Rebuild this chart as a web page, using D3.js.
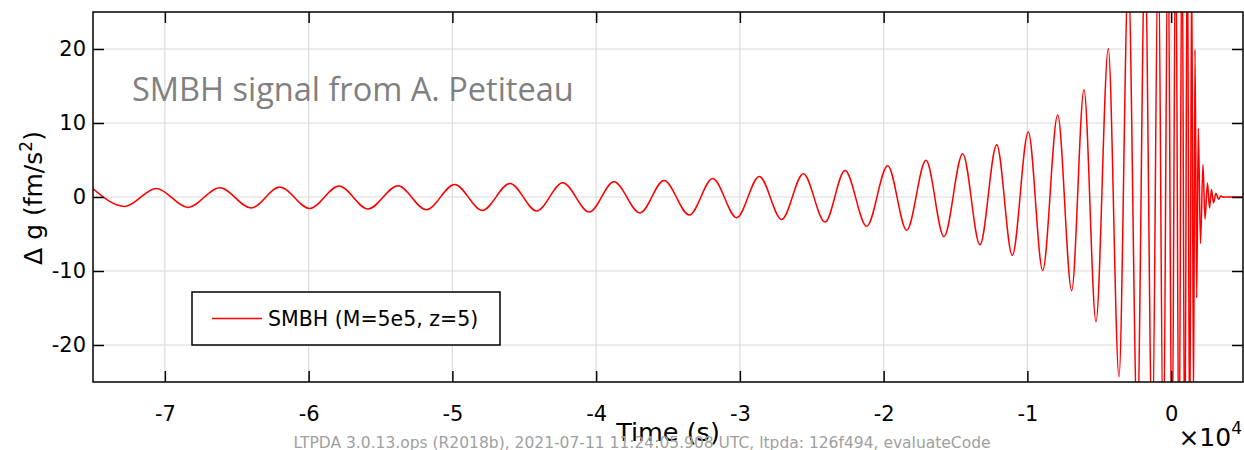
<!DOCTYPE html>
<html lang="en">
<head>
<meta charset="UTF-8">
<title>SMBH signal</title>
<script src="https://d3js.org/d3.v7.min.js"></script>
<style>
  body { margin: 0; background: #fff; font-family: "DejaVu Sans", sans-serif; }
  .axis path { display: none; }
  .axis line { stroke: #000; stroke-width: 1.5; }
  .axis text { font-family: "DejaVu Sans", sans-serif; font-size: 21px; fill: #000; }
</style>
</head>
<body>
<div id="chart"></div>
<script>
// waveform extrema: time (s) and Δg (fm/s²)
const times = [
  -75000, -72795, -70597, -68391, -66186, -63988, -62012, -59925, -57887, -55870,
  -53783, -51814, -49838, -47918, -45991, -44134, -42325, -40475, -38757, -36948,
  -35278, -33518, -31890, -30221, -28649, -27090, -25587, -24078, -22687, -21177,
  -19717, -18395, -17052, -15800, -14499, -13296, -12134, -11049, -9936, -8934,
  -7891, -6917, -6061, -5226, -4371, -3626,
  -2979, -2353, -1818, -1310, -892, -544, -218, 61, 318, 548,
  756, 951, 1125, 1292, 1431, 1556, 1661, 1779, 1890, 2043,
  2217, 2356, 2530, 2669, 2808, 2947, 3121, 3297, 3469, 3643,
  3817, 5000
];
const values = [
  1.1, -1.27, 1.16, -1.41, 1.26, -1.49, 1.35, -1.54, 1.49, -1.62,
  1.53, -1.72, 1.70, -1.81, 1.84, -1.89, 1.93, -2.03, 2.07, -2.16,
  2.24, -2.43, 2.51, -2.80, 2.78, -3.03, 3.15, -3.38, 3.59, -3.95,
  4.23, -4.49, 4.95, -5.36, 5.85, -6.45, 7.07, -7.89, 8.78, -9.92,
  11.08, -12.66, 14.5, -16.85, 20.08, -24.28,
  30, -31, 33, -34, 35, -36, 37, -38, 38, -39,
  39, -39, 38, -36, 32, -28, 19.9, -13.6, 9.3, -6.3,
  4.4, -3.0, 1.9, -1.5, 1.0, -0.8, 0.5, -0.3, 0.15, -0.05,
  0, 0
];
const xTicks = [-70000, -60000, -50000, -40000, -30000, -20000, -10000, 0];
const yTicks = [-20, -10, 0, 10, 20];
const seriesName = "SMBH (M=5e5, z=5)";

const width = 1244, height = 450;
const margin = {top: 12, right: 1, bottom: 68, left: 93};
const plotW = width - margin.left - margin.right;
const plotH = height - margin.top - margin.bottom;

const svg = d3.select("#chart").append("svg")
    .attr("width", width)
    .attr("height", height);

const x = d3.scaleLinear().domain([-75000, 5000]).range([margin.left, margin.left + plotW]);
const y = d3.scaleLinear().domain([-25, 25]).range([margin.top + plotH, margin.top]);

// grid
const grid = svg.append("g").attr("stroke", "#dcdcdc").attr("stroke-width", 1.2);
xTicks.forEach(t => grid.append("line")
    .attr("x1", x(t)).attr("x2", x(t)).attr("y1", margin.top).attr("y2", margin.top + plotH));
yTicks.forEach(t => grid.append("line")
    .attr("x1", margin.left).attr("x2", margin.left + plotW).attr("y1", y(t)).attr("y2", y(t)));

// signal
svg.append("clipPath").attr("id", "clip").append("rect")
    .attr("x", margin.left).attr("y", margin.top).attr("width", plotW).attr("height", plotH);

const pts = times.map((t, i) => [t, values[i]]);
svg.append("path")
    .datum(pts)
    .attr("clip-path", "url(#clip)")
    .attr("fill", "none")
    .attr("stroke", "#ff0000")
    .attr("stroke-width", 1.5)
    .attr("d", d3.line().curve(d3.curveMonotoneX).x(d => x(d[0])).y(d => y(d[1])));

// axes with inward ticks
const tk = 11;
svg.append("g").attr("class", "axis")
    .attr("transform", `translate(0,${margin.top + plotH})`)
    .call(d3.axisBottom(x).tickValues(xTicks).tickSizeInner(-tk).tickSizeOuter(0).tickPadding(tk + 13)
        .tickFormat(d => d3.format("d")(d / 1e4).replace("−", "-")));
svg.append("g").attr("class", "axis")
    .attr("transform", `translate(0,${margin.top})`)
    .call(d3.axisTop(x).tickValues(xTicks).tickSizeInner(-tk).tickSizeOuter(0).tickFormat(""));
svg.append("g").attr("class", "axis")
    .attr("transform", `translate(${margin.left},0)`)
    .call(d3.axisLeft(y).tickValues(yTicks).tickSizeInner(-tk).tickSizeOuter(0).tickPadding(7)
        .tickFormat(d => String(d)));
svg.append("g").attr("class", "axis")
    .attr("transform", `translate(${margin.left + plotW},0)`)
    .call(d3.axisRight(y).tickValues(yTicks).tickSizeInner(-tk).tickSizeOuter(0).tickFormat(""));

// frame
svg.append("rect")
    .attr("x", margin.left).attr("y", margin.top).attr("width", plotW).attr("height", plotH)
    .attr("fill", "none").attr("stroke", "#000").attr("stroke-width", 1.5);

// annotation
svg.append("text")
    .attr("x", 132).attr("y", 101)
    .style("font-family", "'Open Sans', sans-serif")
    .style("font-size", "32.5px")
    .attr("fill", "#808080")
    .text("SMBH signal from A. Petiteau");

// legend
svg.append("rect")
    .attr("x", 192).attr("y", 292).attr("width", 308).attr("height", 53)
    .attr("fill", "#fff").attr("stroke", "#000").attr("stroke-width", 1.5);
svg.append("line")
    .attr("x1", 212).attr("x2", 262).attr("y1", 318.5).attr("y2", 318.5)
    .attr("stroke", "#ff0000").attr("stroke-width", 1.5);
svg.append("text")
    .attr("x", 268).attr("y", 326)
    .style("font-size", "20.5px")
    .text(seriesName);

// axis labels
svg.append("text")
    .attr("transform", `translate(42,198) rotate(-90)`)
    .attr("text-anchor", "middle")
    .style("font-size", "25px")
    .html('Δ g (fm/s<tspan dy="-10" font-size="17px">2</tspan><tspan dy="10">)</tspan>');

svg.append("text")
    .attr("x", 668).attr("y", 441)
    .attr("text-anchor", "middle")
    .style("font-size", "25.5px")
    .text("Time (s)");

svg.append("text")
    .attr("x", 1242).attr("y", 446)
    .attr("text-anchor", "end")
    .style("font-size", "25px")
    .html('×10<tspan dy="-12" font-size="17px">4</tspan>');

// footer
svg.append("text")
    .attr("x", 642).attr("y", 448)
    .attr("text-anchor", "middle")
    .style("font-size", "15.5px")
    .attr("fill", "#a0a0a0")
    .text("LTPDA 3.0.13.ops (R2018b), 2021-07-11 11:24:05.908 UTC, ltpda: 126f494, evaluateCode");
</script>
</body>
</html>
